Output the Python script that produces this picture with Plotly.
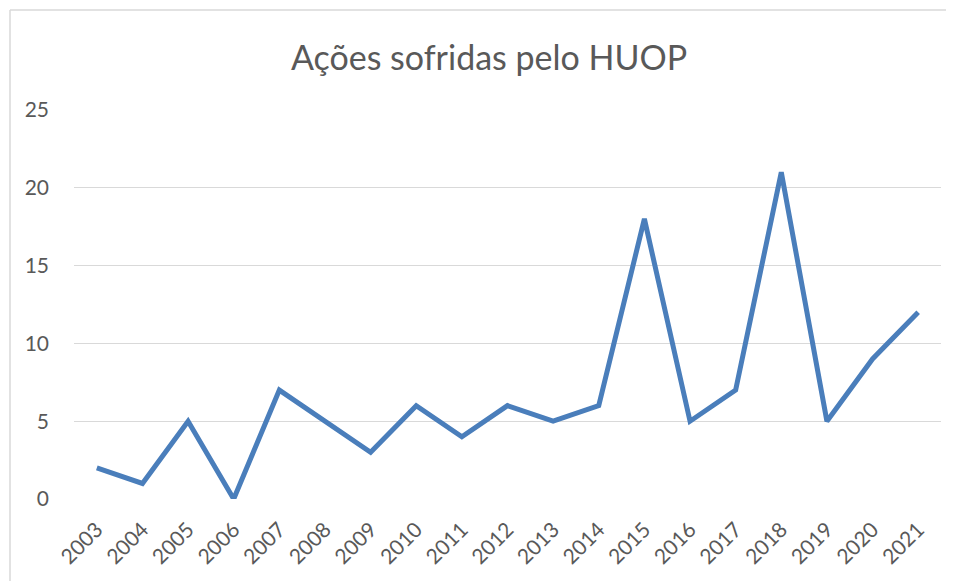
import plotly.graph_objects as go

years = [str(y) for y in range(2003, 2022)]
acoes = [2, 1, 5, 0, 7, 5, 3, 6, 4, 6, 5, 6, 18, 5, 7, 21, 5, 9, 12]
title_text = "Ações sofridas pelo HUOP"

OFF = 8  # page body margin
W, H = 954 - OFF, 581 - OFF
L, R = 74 - OFF, 941 - OFF
T, B = 110 - OFF, 499 - OFF

fig = go.Figure(go.Scatter(
    x=years, y=acoes, mode="lines",
    line=dict(color="#4A7EBB", width=5, shape="linear"),
))

font_fam = "Lato, Open Sans, sans-serif"

fig.update_layout(
    width=W, height=H,
    margin=dict(l=L, r=W - R, t=T, b=H - B),
    paper_bgcolor="white", plot_bgcolor="white",
    showlegend=False,
    title=dict(text=title_text, x=(489 - OFF) / W, xanchor="center", y=1 - (58 - OFF) / H, yanchor="middle",
               font=dict(family=font_fam, size=34, color="#595959")),
    xaxis=dict(type="category", showgrid=False, zeroline=False, showline=False,
               tickangle=-45, ticks="outside", ticklen=9, tickcolor="rgba(0,0,0,0)",
               tickfont=dict(family=font_fam, size=21, color="#595959"),
               range=[-0.5, len(years) - 0.5]),
    yaxis=dict(range=[0, 25], dtick=5, showgrid=True, gridcolor="#D9D9D9", gridwidth=1.3,
               zeroline=False, showline=False, ticks="",
               tickfont=dict(family=font_fam, size=21, color="#595959"),
               ticklabelstandoff=24),
)

pw = R - L
ph = B - T
x_left = (10 - OFF - L) / pw
y_top = (B - (10 - OFF)) / ph
fig.add_shape(type="line", xref="paper", yref="paper", x0=x_left, x1=(W - L) / pw + 0.02,
              y0=y_top, y1=y_top, line=dict(color="#D9D9D9", width=1.5))
fig.add_shape(type="line", xref="paper", yref="paper", x0=x_left, x1=x_left,
              y0=y_top, y1=-(H - B) / ph - 0.02, line=dict(color="#D9D9D9", width=1.5))

fig.write_html("out.html")
